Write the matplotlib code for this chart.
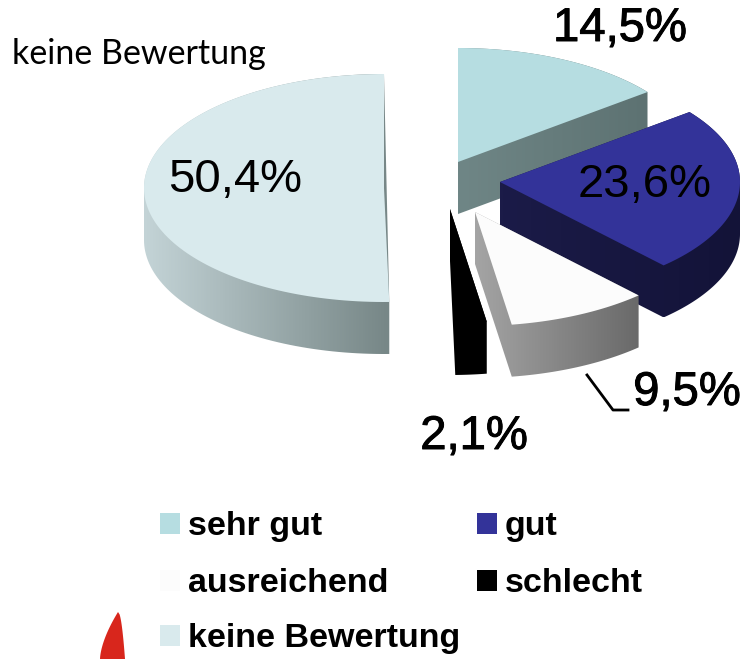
import numpy as np
import matplotlib.pyplot as plt
import matplotlib.patheffects as pe
from matplotlib.path import Path
from matplotlib.patches import PathPatch, Polygon, Rectangle
from matplotlib.colors import LinearSegmentedColormap

W, H = 745, 659

################### DATA ###################
categories = ['sehr gut', 'gut', 'ausreichend', 'schlecht', 'keine Bewertung']
shares = [14.5, 23.6, 9.5, 2.1, 50.4]
value_labels = ['14,5%', '23,6%', '9,5%', '2,1%', '50,4%']
############## END: DATA ###################

# styles
top_colors = ['#b6dde1', '#333399', '#fcfcfc', '#000000', '#d9eaed']
side_light = ['#6f8686', '#1b1b48', '#a4a4a4', '#000000', '#c3d3d6']
side_dark = ['#5d7272', '#131338', '#6a6a6a', '#000000', '#778787']
legend_colors = ['#b6dde1', '#333399', '#fcfcfc', '#000000', '#d9eaed']

# pie geometry in pixels (y goes down), one centre per exploded slice
RX, RY, DEPTH = 240, 114, 52
slice_centres = [(458, 162), (500, 182), (475, 212), (450, 209), (384, 188)]
label_pos = [(620, 29), (645, 185), (687, 393), (474, 437), (235, 180)]
label_heavy = [True, False, True, True, False]
draw_order = [0, 1, 4, 3, 2]


def convex_hull(pts):
    pts = sorted(set(map(tuple, np.round(pts, 3))))
    def cross(o, a, b):
        return (a[0] - o[0]) * (b[1] - o[1]) - (a[1] - o[1]) * (b[0] - o[0])
    lower, upper = [], []
    for p in pts:
        while len(lower) >= 2 and cross(lower[-2], lower[-1], p) <= 0:
            lower.pop()
        lower.append(p)
    for p in reversed(pts):
        while len(upper) >= 2 and cross(upper[-2], upper[-1], p) <= 0:
            upper.pop()
        upper.append(p)
    return np.array(lower[:-1] + upper[:-1])


def wedge_outline(cx, cy, t0, t1, n=120):
    a = np.radians(np.linspace(t0, t1, n))
    arc = np.column_stack([cx + RX * np.cos(a), cy - RY * np.sin(a)])
    return np.vstack([[cx, cy], arc])


fig = plt.figure(figsize=(W / 100, H / 100), dpi=100)
ax = fig.add_axes([0, 0, 1, 1])
ax.set_xlim(0, W)
ax.set_ylim(H, 0)
ax.axis('off')

total = sum(shares)
starts = 90 - np.cumsum([0] + shares[:-1]) * 360 / total
ends = starts - np.array(shares) * 360 / total

for z, i in enumerate(draw_order):
    cx, cy = slice_centres[i]
    top = wedge_outline(cx, cy, ends[i], starts[i])
    hull = convex_hull(np.vstack([top, top + [0, DEPTH]]))
    side = PathPatch(Path(np.vstack([hull, hull[:1]]), closed=True),
                     facecolor='none', edgecolor='none')
    ax.add_patch(side)
    cmap = LinearSegmentedColormap.from_list('s%d' % i, [side_light[i], side_dark[i]])
    x0, x1 = hull[:, 0].min(), hull[:, 0].max()
    y0, y1 = hull[:, 1].min(), hull[:, 1].max()
    img = ax.imshow(np.linspace(0, 1, 64)[None, :], cmap=cmap, aspect='auto',
                    extent=(x0, x1, y1, y0), zorder=2 + 2 * z, interpolation='bilinear')
    img.set_clip_path(side)
    ax.add_patch(Polygon(top, closed=True, facecolor=top_colors[i],
                         edgecolor='none', zorder=3 + 2 * z))

# value labels
for i, txt in enumerate(value_labels):
    t = ax.text(label_pos[i][0], label_pos[i][1], txt, fontsize=34,
                family='Liberation Sans', ha='center', va='center', zorder=30)
    if label_heavy[i]:
        t.set_path_effects([pe.withStroke(linewidth=0.7, foreground='black')])

# leader line for 9,5%
ax.plot([587, 613, 628], [375, 410, 410], color='black', lw=2, zorder=30)

# title
ax.text(12, 64, 'keine Bewertung', fontsize=24.5, family='Lato',
        ha='left', va='baseline', zorder=30)

# legend
legend_x = [160, 477, 160, 477, 160]
legend_base = [535, 535, 592, 592, 647]
for i, name in enumerate(categories):
    ax.add_patch(Rectangle((legend_x[i], legend_base[i] - 22), 20, 21,
                           facecolor=legend_colors[i], edgecolor='none', zorder=30))
    ax.text(legend_x[i] + 28, legend_base[i], name, fontsize=24.5,
            family='Liberation Sans', fontweight='bold',
            ha='left', va='baseline', zorder=30)

# bit of a red logo at the bottom edge
t = np.linspace(0, 1, 20)
right_edge = np.column_stack([118 + 7 * t ** 0.5, 612 + 47 * t])
left_edge = np.column_stack([100 + 18 * t ** 1.6, 659 - 47 * t])
ax.add_patch(Polygon(np.vstack([right_edge, left_edge]), closed=True,
                     facecolor='#d8261c', edgecolor='none', zorder=30))

fig.savefig('out.png', dpi=100)
